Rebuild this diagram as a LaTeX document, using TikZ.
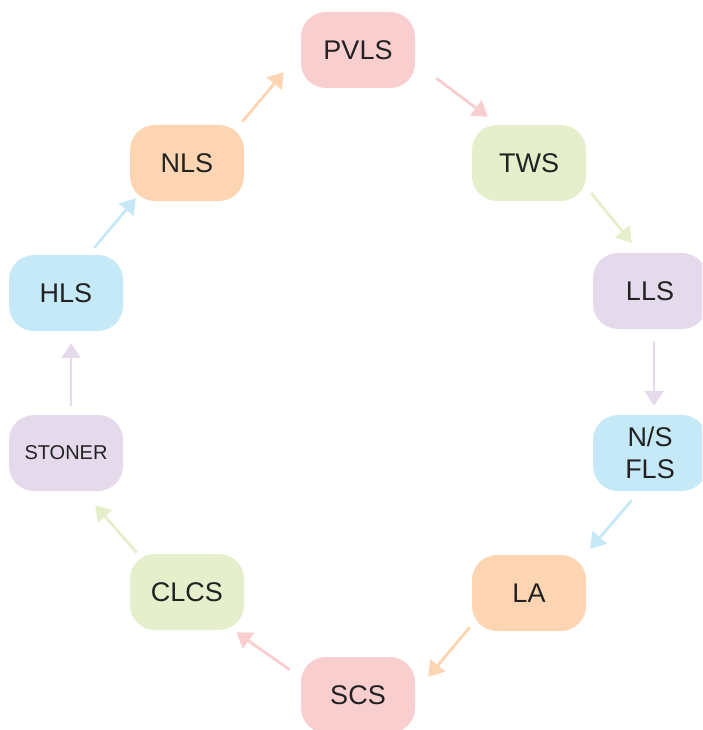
\documentclass[tikz,border=0pt]{standalone}
\usepackage{fontspec}
\setmainfont{Liberation Sans}
\usetikzlibrary{arrows.meta}
\definecolor{cpink}{HTML}{F9CECE}
\definecolor{cgreen}{HTML}{E5EFCB}
\definecolor{cpurple}{HTML}{E4DAEC}
\definecolor{cblue}{HTML}{C6E9F7}
\definecolor{corange}{HTML}{FDD5B3}
\definecolor{textgray}{HTML}{222222}
\tikzset{
	stage/.style = {rounded corners = 25pt, minimum width = 114pt, minimum height = 76pt, inner sep = 0pt, text = textgray, align = center, font = \fontsize{27}{32}\selectfont},
	flow/.style = {line width = 2.8pt, -{Triangle[length = 15pt, width = 19pt]}}
}
\begin{document}
\begin{tikzpicture}[x = 1pt, y = -1pt]
		\useasboundingbox (0, 0) rectangle (702, 730);
		\clip (0, 0) rectangle (702, 730);
		\node[stage, fill = cpink] (pvls) at (358, 50) {PVLS};
		\node[stage, fill = cgreen] (tws) at (529, 163) {TWS};
		\node[stage, fill = cpurple] (lls) at (650, 291) {LLS};
		\node[stage, fill = cblue] (nsfls) at (650, 453) {N/S\\FLS};
		\node[stage, fill = corange] (la) at (529, 593) {LA};
		\node[stage, fill = cpink] (scs) at (358, 695) {SCS};
		\node[stage, fill = cgreen] (clcs) at (187, 592) {CLCS};
		\node[stage, fill = cpurple, font = \fontsize{20}{24}\selectfont] (stoner) at (66, 453) {STONER};
		\node[stage, fill = cblue] (hls) at (66, 293) {HLS};
		\node[stage, fill = corange] (nls) at (187, 163) {NLS};
		\draw[flow, corange] ([xshift = -2pt, yshift = 3pt]nls.north east) -- ([xshift = -17pt, yshift = 16pt]pvls.south west);
		\draw[flow, cpink] ([xshift = 21pt, yshift = 10pt]pvls.south east) -- ([xshift = 16pt, yshift = 8pt]tws.north west);
		\draw[flow, cgreen] ([xshift = 5pt, yshift = 8pt]tws.south east) -- ([xshift = 39pt, yshift = 10pt]lls.north west);
		\draw[flow, cpurple] ([xshift = 4pt, yshift = -12pt]lls.south) -- ([xshift = 4pt, yshift = 9pt]nsfls.north);
		\draw[flow, cblue] ([xshift = 39pt, yshift = -9pt]nsfls.south west) -- ([xshift = 4pt, yshift = 6pt]la.north east);
		\draw[flow, corange] ([xshift = -2pt, yshift = 4pt]la.south west) -- ([xshift = 13pt, yshift = -20pt]scs.north east);
		\draw[flow, cpink] ([xshift = -11pt, yshift = -13pt]scs.north west) -- ([xshift = -8pt, yshift = -2pt]clcs.south east);
		\draw[flow, cgreen] ([xshift = 7pt, yshift = 1pt]clcs.north west) -- ([xshift = -28pt, yshift = -14pt]stoner.south east);
		\draw[flow, cpurple] ([xshift = 5pt, yshift = 9pt]stoner.north) -- ([xshift = 5pt, yshift = -12pt]hls.south);
		\draw[flow, cblue] ([xshift = -29pt, yshift = 7pt]hls.north east) -- ([xshift = 6pt, yshift = 3pt]nls.south west);
	\end{tikzpicture}
\end{document}
